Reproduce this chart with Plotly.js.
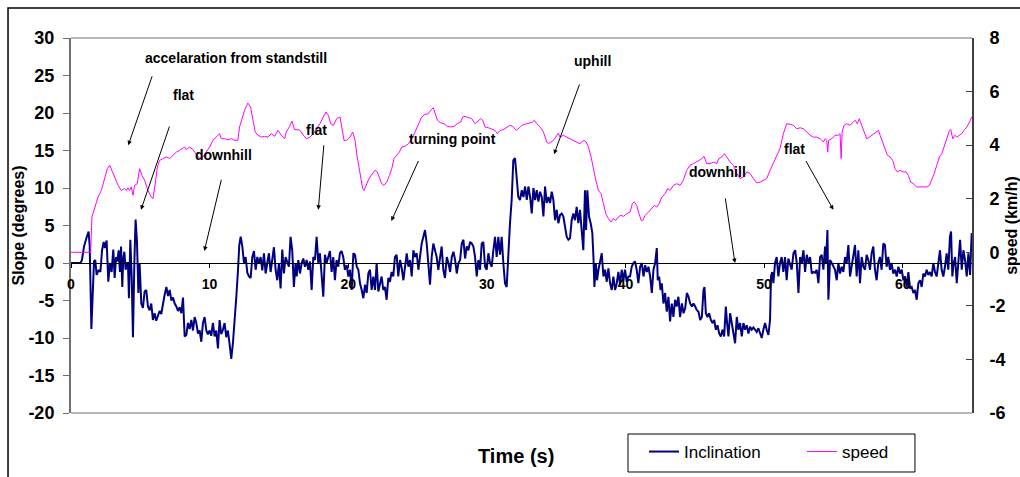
<!DOCTYPE html>
<html>
<head>
<meta charset="utf-8">
<script src="https://cdn.plot.ly/plotly-3.0.1.min.js"></script>
<style>
  html, body { margin: 0; padding: 0; background: #fff; }
  #chart { width: 1020px; height: 477px; }
</style>
</head>
<body>
<div id="chart"></div>
<script>
// ---- Data ----
const timeIncl = [
  0.00,0.26,0.50,0.70,0.79,0.94,1.11,1.27,1.35,1.47,1.56,1.66,1.75,1.85,2.00,2.12,2.24,2.36,2.45,2.57,
  2.69,2.81,2.93,3.05,3.15,3.25,3.34,3.44,3.53,3.61,3.70,3.77,3.85,3.94,4.04,4.11,4.18,4.28,4.38,4.47,
  4.57,4.66,4.76,4.86,4.95,5.07,5.19,5.31,5.43,5.55,5.67,5.79,5.91,6.03,6.15,6.27,6.39,6.51,6.63,6.75,
  6.88,7.00,7.12,7.24,7.36,7.48,7.60,7.72,7.84,7.96,8.08,8.20,8.32,8.44,8.56,8.68,8.80,8.92,9.04,9.16,
  9.28,9.40,9.52,9.64,9.76,9.88,10.00,10.12,10.24,10.36,10.48,10.60,10.72,10.84,10.96,11.08,11.20,11.32,11.44,11.56,
  11.68,11.80,11.92,12.04,12.14,12.24,12.36,12.48,12.60,12.72,12.84,12.96,13.08,13.20,13.32,13.44,13.56,13.68,13.80,13.92,
  14.04,14.16,14.28,14.40,14.52,14.64,14.76,14.88,15.00,15.12,15.24,15.36,15.48,15.60,15.72,15.84,15.96,16.08,16.20,
  16.28,16.40,16.52,16.64,16.76,16.88,17.00,17.12,17.24,17.36,17.48,17.60,17.72,17.84,17.96,18.08,18.20,18.32,18.44,18.56,
  18.68,18.80,18.92,19.04,19.16,19.28,19.40,19.52,19.64,19.76,19.89,20.01,20.13,20.25,20.37,20.49,20.61,20.73,20.85,20.97,
  21.09,21.21,21.33,21.45,21.57,21.69,21.81,21.93,22.05,22.17,22.29,22.41,22.53,22.65,22.77,22.89,23.01,23.13,23.25,23.37,
  23.49,23.61,23.74,23.86,23.98,24.10,24.22,24.34,24.46,24.58,24.70,24.82,24.94,25.06,25.18,25.30,25.42,25.54,25.66,25.78,
  25.90,26.02,26.14,26.26,26.38,26.50,26.62,26.74,26.86,26.98,27.11,27.23,27.35,27.47,27.59,27.71,27.83,27.95,28.07,28.19,
  28.31,28.43,28.55,28.67,28.79,28.91,29.03,29.15,29.27,29.39,29.51,29.63,29.75,29.87,29.99,30.11,30.23,30.35,30.47,30.59,
  30.71,30.83,30.95,31.07,31.19,31.31,31.43,31.55,31.67,31.79,31.91,32.03,32.15,32.27,32.39,
  32.52,32.64,32.76,32.88,33.00,33.12,33.24,33.36,33.48,33.60,33.72,33.84,33.96,34.08,34.20,34.32,34.44,34.56,34.68,34.80,
  34.92,35.04,35.16,35.28,35.40,35.52,35.64,35.76,35.88,36.00,36.12,36.24,36.36,36.48,36.60,36.72,36.84,36.96,37.08,37.16,
  37.25,37.37,37.49,37.61,37.69,37.76,37.86,37.95,38.05,38.17,38.29,38.41,38.53,38.65,38.77,38.89,39.01,39.13,39.25,39.37,
  39.49,39.61,39.73,39.85,39.97,40.09,40.21,40.33,40.45,40.57,40.69,40.81,40.93,41.06,41.18,41.30,41.42,41.54,41.66,41.78,
  41.90,42.02,42.14,42.26,42.33,42.43,42.53,42.62,42.74,42.86,42.98,43.10,43.22,43.34,43.46,43.58,43.70,43.82,43.94,44.07,
  44.19,44.31,44.43,44.55,44.67,44.79,44.91,45.03,45.15,45.27,45.39,45.51,45.63,45.70,45.80,45.92,46.04,46.16,46.28,46.40,
  46.52,46.64,46.76,46.88,47.00,47.12,47.24,47.33,47.43,47.55,47.67,47.79,47.91,48.03,48.15,48.27,48.39,48.51,
  48.63,48.75,48.87,48.99,49.11,49.23,49.35,49.47,49.59,49.71,49.83,49.95,50.07,50.19,50.31,50.43,50.50,50.58,50.67,50.79,
  50.91,51.03,51.15,51.27,51.39,51.51,51.63,51.75,51.87,51.99,52.12,52.24,52.36,52.48,52.60,52.72,52.84,52.96,53.08,53.20,
  53.32,53.44,53.56,53.68,53.80,53.92,54.04,54.16,54.28,54.40,54.47,54.57,54.64,54.76,54.88,55.00,55.12,55.24,55.36,55.48,
  55.60,55.72,55.84,55.96,56.08,56.20,56.32,56.44,56.56,56.68,56.80,56.92,57.04,57.16,57.28,57.40,57.52,57.64,57.76,57.88,
  58.00,58.12,58.24,58.36,58.48,58.60,58.72,58.84,58.96,59.08,59.20,59.32,59.45,59.57,59.69,59.81,59.93,60.05,60.17,60.29,
  60.41,60.53,60.65,60.77,60.89,61.01,61.13,61.25,61.37,61.49,61.61,61.73,61.85,61.97,62.09,62.21,62.33,62.45,62.57,62.69,
  62.81,62.93,63.05,63.17,63.29,63.41,63.49,63.58,63.68,63.78,63.90,64.02,64.14,64.26,64.38,64.50,64.62,64.74,64.86,64.98
];
const inclination = [
  0.0,0.0,-0.1,0.0,0.4,2.2,3.3,4.2,2.2,-8.8,-4.5,0.2,0.4,-1.6,-0.9,-1.2,1.7,2.8,2.0,3.0,
  -2.5,0.0,-1.2,1.8,-2.0,0.8,0.2,1.7,-1.2,2.2,-3.2,0.6,1.5,-0.9,0.0,0.0,-4.7,3.1,-2.0,-9.9,
  0.0,5.8,2.8,-4.0,0.0,-5.4,-6.0,-3.8,-3.6,-5.8,-6.3,-5.4,-7.6,-6.7,-7.7,-6.9,-6.4,-6.8,-5.2,-4.3,
  -3.2,-4.4,-3.6,-5.0,-4.6,-5.4,-5.8,-6.4,-5.9,-6.7,-4.6,-9.8,-9.6,-8.0,-8.8,-7.6,-9.0,-7.2,-8.0,-9.4,
  -9.0,-10.5,-8.0,-7.2,-9.0,-9.5,-9.0,-9.7,-8.0,-9.8,-9.0,-11.4,-7.6,-9.5,-8.9,-8.0,-9.9,-9.0,-10.8,-12.8,
  -10.7,-8.0,-4.7,-1.2,2.4,3.5,2.2,0.0,0.8,-1.3,-1.8,-2.0,0.8,1.6,-0.9,0.8,-0.1,0.8,-1.0,1.3,
  -1.4,0.0,1.3,-1.2,0.8,2.1,-0.9,-2.3,0.0,-3.4,1.8,-1.4,0.8,0.0,-0.5,3.5,1.7,-3.2,0.0,
  -1.8,0.4,-1.4,0.0,0.6,-0.5,0.4,-0.9,0.2,-3.6,0.8,0.4,3.5,0.0,1.3,-1.2,-4.5,1.1,0.0,0.8,
  1.6,-1.2,0.8,-2.3,0.4,-0.5,1.3,1.6,0.8,-0.9,-0.3,-1.8,-0.9,-3.6,1.3,1.1,-0.5,-0.9,-2.7,-3.6,
  -4.7,-2.9,-4.0,-1.4,-0.9,-3.6,-1.8,-3.6,0.0,-3.8,-2.7,-1.8,-3.6,-3.2,-4.9,-2.0,-2.5,-1.2,-1.8,0.8,
  1.1,-1.8,0.4,-0.7,-2.3,0.0,1.3,-0.5,0.4,-1.8,1.7,0.8,1.3,-0.9,0.8,2.6,3.5,4.4,2.6,0.0,
  -2.9,0.8,2.6,1.7,0.8,-0.9,0.8,2.2,-0.9,-2.0,0.8,0.0,-1.2,0.8,1.5,0.4,-1.4,0.0,0.4,2.6,
  3.1,0.6,2.2,1.7,2.8,2.6,2.2,0.8,-1.8,0.4,-0.9,2.6,2.8,-0.5,-0.9,1.3,0.0,-0.5,1.7,3.5,
  0.8,3.5,1.1,3.5,0.0,-2.7,-3.2,1.7,5.3,8.4,13.7,14.0,11.5,8.8,8.4,
  9.7,8.8,10.2,8.4,10.2,8.8,6.6,10.0,8.4,9.7,8.2,9.5,8.8,6.2,10.2,8.0,8.8,8.0,9.5,8.4,
  5.7,7.1,5.3,6.4,6.6,6.2,4.8,3.5,3.1,3.3,5.7,6.6,5.7,7.5,5.3,7.1,4.4,1.7,9.7,4.4,
  9.7,6.2,5.3,4.0,0.8,-3.2,0.0,-2.3,-0.9,0.4,1.3,-1.8,-0.9,-2.5,-0.7,-2.7,-3.6,-1.8,-3.6,-2.7,
  -1.2,-2.9,-0.9,-2.3,-0.9,-2.5,-1.8,-1.8,-0.5,0.0,0.2,-0.9,-2.7,-0.5,0.0,-1.8,-0.3,-1.2,-0.5,-1.8,
  -4.0,-0.9,0.0,2.0,-2.3,-1.8,-3.6,-2.7,-5.4,-4.0,-6.5,-4.5,-7.8,-5.4,-7.2,-4.9,-5.8,-4.5,-7.2,-5.4,
  -6.7,-6.0,-4.0,-4.5,-5.4,-5.8,-5.4,-5.8,-6.3,-6.5,-7.6,-7.2,-3.6,-3.2,-6.7,-7.2,-6.7,-7.6,-8.0,-7.6,
  -8.9,-8.3,-9.4,-9.8,-8.9,-9.8,-5.8,-8.0,-9.8,-6.7,-8.0,-8.9,-10.7,-7.2,-8.9,-8.0,-9.8,-8.0,
  -8.9,-8.3,-9.4,-8.5,-8.9,-8.6,-8.9,-9.2,-8.7,-9.4,-10.0,-8.9,-8.0,-8.9,-9.6,-7.6,-1.8,-1.2,-2.7,0.0,
  0.8,-1.8,0.0,0.8,-1.2,0.8,-2.3,0.6,-0.3,-0.9,1.3,1.7,0.0,-4.0,0.8,0.0,1.7,-1.2,1.1,0.0,
  0.8,-1.4,-1.2,-1.3,-0.9,-2.7,0.8,1.1,-0.9,2.2,0.0,4.4,-4.9,0.4,0.0,-0.5,-0.9,-2.3,0.0,-1.4,
  -0.5,-1.2,0.8,0.0,2.4,-1.8,-0.5,0.8,2.4,-1.8,1.7,-2.7,0.8,-0.5,-0.9,1.1,0.4,-0.9,1.3,2.2,
  -0.9,-2.3,0.0,0.8,-0.9,2.6,2.4,-0.5,0.8,-0.9,0.0,-1.4,-0.9,-1.8,-0.5,-1.4,-0.9,-2.3,-1.8,-3.2,
  -1.2,-3.4,-3.2,-4.0,-3.6,-4.9,-2.7,-2.3,-3.2,-1.4,-1.8,-0.9,-1.6,-1.2,-1.8,0.0,-1.2,-1.8,0.4,1.7,
  -0.9,-1.8,-0.5,1.3,-0.9,3.5,4.2,-1.8,0.0,0.8,-2.7,0.0,3.1,-0.9,1.7,0.4,-1.8,1.3,-1.6,4.0
];

const timeSpeed = [
  0.00,1.42,1.51,1.71,1.95,2.19,2.43,2.62,2.79,2.91,3.15,3.39,3.63,3.87,3.99,4.11,4.23,4.35,4.47,4.59,
  4.78,4.95,5.12,5.31,5.55,5.79,5.91,6.08,6.23,6.39,6.63,6.88,7.12,7.36,7.60,7.84,8.08,8.20,8.32,8.56,
  8.80,9.04,9.28,9.52,9.76,10.00,10.24,10.48,10.72,10.84,11.08,11.32,11.56,11.80,12.04,12.16,12.33,12.52,12.76,12.96,
  13.13,13.29,13.49,13.73,13.97,14.21,14.45,14.69,14.93,15.17,15.41,15.53,15.77,15.94,16.13,16.37,
  16.52,16.76,17.00,17.24,17.48,17.72,17.96,18.20,18.40,18.57,18.73,18.93,19.17,19.41,19.53,19.70,19.89,20.13,20.32,20.49,
  20.61,20.73,20.90,21.04,21.14,21.28,21.45,21.57,21.77,21.93,22.10,22.25,22.41,22.58,22.78,22.97,23.14,23.30,23.50,23.69,
  23.86,24.10,24.34,24.58,24.82,25.06,25.30,25.54,25.78,25.95,26.14,26.28,26.43,26.67,26.91,27.15,27.39,27.63,27.87,28.11,
  28.26,28.43,28.67,28.91,29.15,29.39,29.56,29.70,29.87,30.11,30.35,30.59,30.76,30.95,31.19,31.43,31.67,31.87,32.11,32.35,
  32.52,32.88,33.12,33.29,33.43,33.60,33.84,34.08,34.32,34.44,34.63,34.80,34.97,35.16,35.28,35.52,35.76,36.00,36.24,36.48,
  36.72,36.84,37.01,37.16,37.33,37.52,37.69,37.86,38.05,38.24,38.41,38.58,38.77,38.96,39.13,39.30,39.49,39.68,39.85,40.09,
  40.33,40.50,40.64,40.81,40.98,41.13,41.25,41.42,41.66,41.90,42.09,42.26,42.43,42.62,42.86,43.05,43.22,43.46,43.70,43.94,
  44.18,44.42,44.66,44.90,45.14,45.31,45.50,45.67,45.86,46.10,46.34,46.58,46.75,46.95,47.14,47.31,47.55,47.79,48.03,48.27,48.51,
  48.75,48.99,49.23,49.47,49.71,49.95,50.19,50.43,50.67,50.91,51.15,51.39,51.63,51.87,52.12,52.36,52.60,52.84,53.08,53.32,
  53.56,53.80,54.04,54.28,54.40,54.52,54.59,54.66,54.88,55.12,55.36,55.48,55.56,55.63,55.77,55.96,56.20,56.39,56.56,56.73,
  56.87,57.04,57.21,57.41,57.60,57.77,57.94,58.08,58.25,58.37,58.56,58.73,58.90,59.09,59.28,59.45,59.62,59.81,60.05,60.25,
  60.41,60.58,60.77,61.01,61.25,61.49,61.73,61.93,62.10,62.27,62.46,62.65,62.82,62.99,63.18,63.37,63.47,63.61,63.78,63.90,
  64.09,64.26,64.43,64.63,64.82,64.98
];
const speed = [
  0.00,0.00,1.32,1.69,2.06,2.31,2.81,3.12,3.25,3.12,2.81,2.50,2.31,2.38,2.31,2.41,2.31,2.44,2.13,2.50,
  2.56,3.12,2.87,2.69,2.31,2.06,2.00,2.56,3.18,3.43,3.50,3.56,3.50,3.62,3.74,3.81,3.87,3.93,3.83,3.93,
  3.83,3.68,3.50,3.56,3.74,3.93,4.18,4.30,4.43,4.24,4.24,4.20,4.24,4.18,4.18,4.68,4.99,5.30,5.57,5.42,
  4.93,4.49,4.37,4.30,4.33,4.30,4.43,4.33,4.55,4.37,4.24,4.49,4.70,4.90,4.58,4.58,
  4.55,4.37,4.24,4.30,4.43,4.61,4.80,5.05,5.24,5.11,4.80,4.74,4.99,5.05,4.68,4.18,4.18,4.30,4.49,4.18,
  3.68,3.31,2.81,2.38,2.31,2.50,2.69,2.81,2.94,3.06,3.00,2.81,2.56,2.50,2.62,2.87,3.12,3.50,3.62,3.74,
  3.93,3.96,4.05,4.24,4.49,4.80,5.05,5.15,5.17,5.30,5.40,5.17,4.93,4.83,4.80,4.70,4.68,4.70,4.80,4.86,
  5.05,5.07,5.02,4.99,4.80,4.93,4.99,4.93,4.68,4.65,4.61,4.55,4.43,4.55,4.58,4.65,4.74,4.70,4.55,4.65,
  4.74,4.80,4.83,4.86,4.93,4.80,4.68,4.49,4.12,4.05,4.12,4.18,4.30,4.45,4.30,4.37,4.30,4.24,4.18,4.12,
  4.05,4.12,4.18,4.12,3.93,3.56,3.06,2.69,2.31,2.19,1.82,1.44,1.26,1.13,1.26,1.19,1.32,1.38,1.34,1.44,
  1.50,1.82,1.88,1.75,1.44,1.19,1.19,1.38,1.50,1.63,1.75,1.69,1.82,2.06,2.19,2.38,2.31,2.50,2.56,2.50,
  2.69,3.06,3.25,3.31,3.37,3.43,3.50,3.58,3.31,3.31,3.37,3.31,3.50,3.56,3.68,3.56,3.37,3.25,2.94,2.75,2.81,
  3.00,2.94,2.75,2.59,2.62,2.69,2.75,3.06,3.31,3.56,3.87,4.43,4.80,4.78,4.74,4.61,4.65,4.61,4.49,4.37,
  4.30,4.30,4.24,4.12,4.24,4.18,3.74,4.18,4.24,4.37,4.37,4.43,3.50,4.49,4.74,4.80,4.74,4.86,4.93,4.80,
  4.99,4.74,4.49,4.24,4.30,4.37,4.43,4.49,4.55,4.37,4.12,3.87,3.62,3.56,3.43,3.12,3.00,3.06,3.00,3.00,
  2.87,2.62,2.56,2.44,2.44,2.46,2.44,2.50,2.69,2.94,3.25,3.56,3.68,3.99,4.24,4.55,4.58,4.24,4.37,4.30,
  4.37,4.43,4.55,4.68,4.86,5.05
];

const seriesNames = ['Inclination', 'speed'];
const slopeTicks = [-20, -15, -10, -5, 0, 5, 10, 15, 20, 25, 30];
const speedTicks = [-6, -4, -2, 0, 2, 4, 6, 8];
const timeTicks = [0, 10, 20, 30, 40, 50, 60];

// Annotation labels: [text, x, y] and arrows: [headX, headY, tailX, tailY] in data units
const noteTexts = [
  ['accelaration from standstill', 11.9, 27.3],
  ['flat', 8.15, 22.4],
  ['downhill', 10.97, 14.4],
  ['flat', 17.71, 17.7],
  ['turning point', 27.49, 16.5],
  ['uphill', 37.59, 26.9],
  ['downhill', 46.65, 12.2],
  ['flat', 52.16, 15.2]
];
const noteArrows = [
  [4.13, 15.7, 5.89, 25.1],
  [5.05, 7.1, 7.14, 18.4],
  [9.62, 1.6, 10.87, 11.3],
  [17.84, 7.1, 18.25, 15.9],
  [23.11, 5.6, 25.11, 13.8],
  [34.85, 14.5, 36.72, 24.0],
  [47.90, 0.0, 47.19, 8.8],
  [55.00, 7.1, 52.96, 13.8]
];

// ---- Build chart ----
const FONT = 'Liberation Sans, Arial, Helvetica, sans-serif';

const traces = [
  {
    x: timeIncl, y: inclination, type: 'scatter', mode: 'lines',
    name: seriesNames[0], line: { color: '#000080', width: 2 }, yaxis: 'y', legend: 'legend'
  },
  {
    x: timeSpeed, y: speed, type: 'scatter', mode: 'lines',
    name: seriesNames[1], line: { color: '#FF00FF', width: 1 }, yaxis: 'y2', legend: 'legend2'
  }
];

const annotations = [];
noteTexts.forEach(n => annotations.push({
  text: n[0], x: n[1], y: n[2], xref: 'x', yref: 'y', showarrow: false,
  font: { family: FONT, size: 14, weight: 'bold', color: '#000' },
  xanchor: 'center', yanchor: 'middle'
}));
noteArrows.forEach(a => annotations.push({
  text: '', x: a[0], y: a[1], ax: a[2], ay: a[3],
  xref: 'x', yref: 'y', axref: 'x', ayref: 'y',
  showarrow: true, arrowhead: 2, arrowsize: 0.9, arrowwidth: 1, arrowcolor: '#000', standoff: 0
}));
annotations.push({
  text: 'Time (s)', xref: 'paper', yref: 'paper', x: 0.494, y: -0.115,
  showarrow: false, xanchor: 'center', yanchor: 'middle',
  font: { family: FONT, size: 20, weight: 'bold', color: '#000' }
});

const legendCommon = {
  orientation: 'h', xanchor: 'left', yanchor: 'top', y: -0.056,
  bgcolor: 'rgba(0,0,0,0)', borderwidth: 0,
  font: { family: FONT, size: 17, color: '#000' }
};

const layout = {
  width: 1020, height: 477,
  margin: { l: 71, r: 48, t: 38, b: 64, pad: 0, autoexpand: false },
  paper_bgcolor: '#ffffff', plot_bgcolor: '#ffffff',
  font: { family: FONT, color: '#000' },
  showlegend: true,
  legend: Object.assign({}, legendCommon, { x: 0.636 }),
  legend2: Object.assign({}, legendCommon, { x: 0.8113 }),
  xaxis: {
    range: [0, 65], anchor: 'free', position: 0.4,
    tickvals: timeTicks, ticktext: timeTicks.map(String),
    showline: true, linecolor: '#000', linewidth: 1,
    ticks: 'outside', ticklen: 4, tickcolor: '#000', tickwidth: 1,
    showgrid: false, zeroline: false,
    tickfont: { family: FONT, size: 14, weight: 'bold', color: '#000' },
    ticklabelstandoff: 4
  },
  yaxis: {
    range: [-20, 30], tickvals: slopeTicks, ticktext: slopeTicks.map(String),
    showgrid: false, zeroline: false,
    showline: true, linecolor: '#707070', linewidth: 2,
    ticks: 'outside', ticklen: 6, tickcolor: '#707070', tickwidth: 1,
    tickfont: { family: FONT, size: 18, weight: 'bold', color: '#000' },
    ticklabelstandoff: 5,
    title: { text: 'Slope (degrees)', font: { family: FONT, size: 16, weight: 'bold', color: '#000' }, standoff: 0 }
  },
  yaxis2: {
    range: [-6, 8], tickvals: speedTicks, ticktext: speedTicks.map(String),
    overlaying: 'y', side: 'right', anchor: 'x',
    showgrid: false, zeroline: false,
    showline: true, linecolor: '#404040', linewidth: 2,
    ticks: 'inside', ticklen: 6, tickcolor: '#404040', tickwidth: 1,
    tickfont: { family: FONT, size: 18, weight: 'bold', color: '#000' },
    ticklabelstandoff: 12,
    title: { text: 'speed (km/h)', font: { family: FONT, size: 16, weight: 'bold', color: '#000' }, standoff: 15 }
  },
  shapes: [
    { type: 'line', xref: 'paper', yref: 'paper', x0: 0, x1: 1, y0: 1, y1: 1, line: { color: '#a0a0a0', width: 1.5 } },
    { type: 'line', xref: 'paper', yref: 'paper', x0: 0, x1: 1, y0: 0, y1: 0, line: { color: '#a0a0a0', width: 1.5 } },
    { type: 'rect', xref: 'paper', yref: 'paper', x0: -0.0699, x1: 1.3, y0: -0.6, y1: 1.08, line: { color: '#000', width: 1.5 }, fillcolor: 'rgba(0,0,0,0)' },
    { type: 'rect', xref: 'paper', yref: 'paper', x0: 0.6182, x1: 0.9367, y0: -0.1573, y1: -0.056, line: { color: '#000', width: 1 }, fillcolor: '#ffffff', layer: 'below' }
  ],
  annotations: annotations
};

Plotly.newPlot('chart', traces, layout, { displayModeBar: false, staticPlot: true });
</script>
</body>
</html>
